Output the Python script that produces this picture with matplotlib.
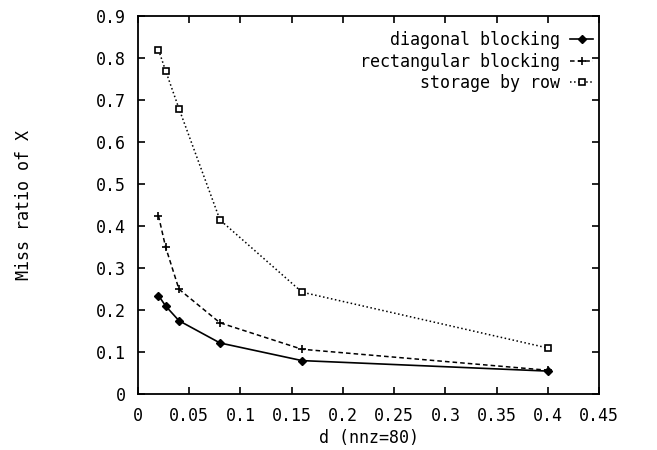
import matplotlib
matplotlib.use("Agg")
import matplotlib.pyplot as plt

# density values (x axis)
d = [0.02, 0.027, 0.04, 0.08, 0.16, 0.4]

# miss ratios of X for each storage scheme
diag_blocking = [0.235, 0.21, 0.175, 0.122, 0.08, 0.055]
rect_blocking = [0.425, 0.35, 0.25, 0.17, 0.107, 0.057]
row_storage = [0.82, 0.77, 0.68, 0.415, 0.243, 0.11]

xticks = [0, 0.05, 0.1, 0.15, 0.2, 0.25, 0.3, 0.35, 0.4, 0.45]
xticklabels = ["0", "0.05", "0.1", "0.15", "0.2", "0.25", "0.3", "0.35", "0.4", "0.45"]
yticks = [0, 0.1, 0.2, 0.3, 0.4, 0.5, 0.6, 0.7, 0.8, 0.9]
yticklabels = ["0", "0.1", "0.2", "0.3", "0.4", "0.5", "0.6", "0.7", "0.8", "0.9"]

plt.rcParams['font.family'] = ['DejaVu Sans Mono']
plt.rcParams['font.size'] = 12

fig = plt.figure(figsize=(6.57, 4.5), dpi=100)
ax = fig.add_axes([0.21, 0.124, 0.702, 0.84])

ax.plot(d, diag_blocking, '-', color='black', lw=1.2, marker='D', ms=4,
        label='diagonal blocking')
ax.plot(d, rect_blocking, '--', color='black', lw=1.1, marker='+', ms=6,
        mew=1.2, dashes=(3, 2), label='rectangular blocking')
ax.plot(d, row_storage, ':', color='black', lw=1.1, marker='s', ms=4.5,
        mfc='white', mew=1.2, label='storage by row')

ax.set_xlim(0, 0.45)
ax.set_ylim(0, 0.9)
ax.set_xticks(xticks)
ax.set_xticklabels(xticklabels)
ax.set_yticks(yticks)
ax.set_yticklabels(yticklabels)
ax.tick_params(direction='in', top=True, right=True, length=5, width=1.2, pad=9)
for s in ax.spines.values():
    s.set_linewidth(1.3)

ax.set_xlabel('d (nnz=80)', labelpad=3)
ax.set_ylabel('Miss ratio of X', labelpad=45)

ax.legend(loc='upper right', frameon=False, markerfirst=False, handlelength=1.4,
          handletextpad=0.6, labelspacing=0.2, bbox_to_anchor=(1.02, 1.0))

fig.savefig('out.png', dpi=100)
